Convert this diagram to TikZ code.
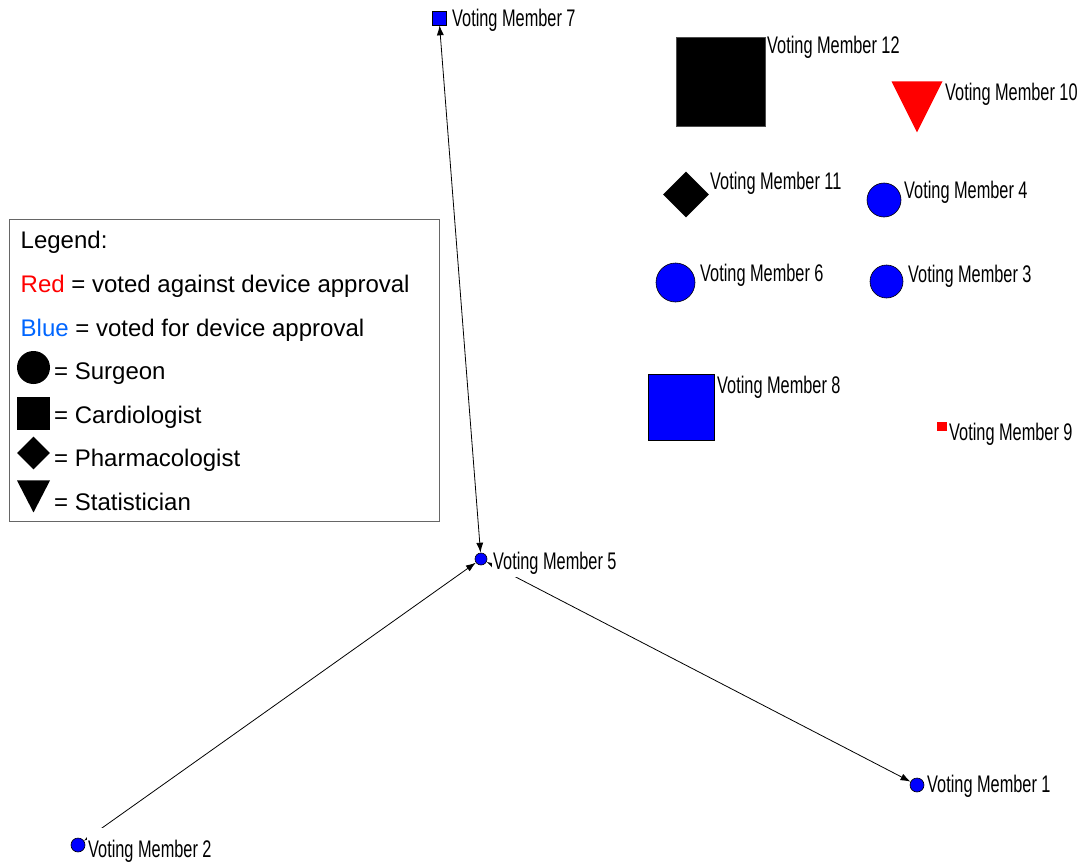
\documentclass[tikz,border=0pt]{standalone}
\usepackage{fontspec}
\setmainfont{Liberation Sans}
\newfontfamily\vmfont[FakeStretch=0.68]{Liberation Sans}
\usetikzlibrary{shapes.geometric,arrows.meta}
\definecolor{legblue}{RGB}{0,102,255}
\begin{document}
\begin{tikzpicture}[x=1pt,y=-1pt,
  vm/.style={font=\vmfont\fontsize{24}{24}\selectfont, anchor=base west, inner xsep=1pt, inner ysep=0pt, text height=29pt, text depth=8pt, fill=white},
  leg/.style={font=\fontsize{24}{24}\selectfont, anchor=base west, inner sep=0pt},
  bcirc/.style={circle, fill=blue, draw=black, line width=0.6pt, inner sep=0pt},
  bsq/.style={rectangle, fill=blue, draw=black, line width=0.6pt, inner sep=0pt},
  ksq/.style={rectangle, fill=black, draw=black!70, line width=0.6pt, inner sep=0pt},
  kdia/.style={diamond, fill=black, inner sep=0pt, aspect=1},
  redtri/.style={isosceles triangle, isosceles triangle stretches, shape border rotate=-90, inner sep=0pt, fill=red},
  edge/.style={line width=0.8pt, {Latex[length=10pt,width=7pt]}-{Latex[length=10pt,width=7pt]}},
]
\path[use as bounding box] (0,0) rectangle (1088,867);

% nodes
\node[bsq, minimum size=14pt] (n7) at (439,18) {};
\node[ksq, minimum size=89pt] (n12) at (721,81.5) {};
\node[redtri, minimum width=51pt, minimum height=51pt, anchor=apex] (n10) at (917,133) {};
\node[kdia, minimum size=46pt] (n11) at (686,194.5) {};
\node[bcirc, minimum size=34pt] (n4) at (884,200) {};
\node[bcirc, minimum size=39pt] (n6) at (675.5,282.5) {};
\node[bcirc, minimum size=33pt] (n3) at (886.5,281.5) {};
\node[bsq, minimum size=66pt] (n8) at (681,407.5) {};
\node[rectangle, fill=red, inner sep=0pt, minimum width=10pt, minimum height=9pt] (n9) at (942,426.5) {};
\node[bcirc, minimum size=12pt] (n5) at (481,559) {};
\node[bcirc, minimum size=14pt] (n2) at (78,845) {};
\node[bcirc, minimum size=14pt] (n1) at (917,785) {};

% edges
\draw[edge] (n7) -- (n5);
\draw[edge] (n2) -- (n5);
\draw[edge] (n5) -- (n1);

% labels
\node[vm] (l7) at (451,27) {Voting Member 7};
\node[vm] (l12) at (766,54) {Voting Member 12};
\node[vm] (l10) at (944,100) {Voting Member 10};
\node[vm] (l11) at (709,189) {Voting Member 11};
\node[vm] (l4) at (903,198) {Voting Member 4};
\node[vm] (l6) at (699,281) {Voting Member 6};
\node[vm] (l3) at (907,282) {Voting Member 3};
\node[vm] (l8) at (716,393) {Voting Member 8};
\node[vm] (l9) at (948,440) {Voting Member 9};
\node[vm] (l5) at (492,569) {Voting Member 5};
\node[vm] (l2) at (87,857) {Voting Member 2};
\node[vm] (l1) at (926,792) {Voting Member 1};

% legend
\node[draw=black!60, line width=0.8pt, fill=white, minimum width=430pt, minimum height=302pt, inner sep=0pt, anchor=north west] (legend) at (9,219) {};
\node[leg] (lg0) at (20.5,248) {Legend:};
\node[leg] (lg1) at (20.5,292) {\textcolor{red}{Red} = voted against device approval};
\node[leg] (lg2) at (20.5,336) {\textcolor{legblue}{Blue} = voted for device approval};
\node[circle, fill=black, inner sep=0pt, minimum size=33pt] (s1) at (33.5,367.5) {};
\node[leg] (lg3) at (54,379) {= Surgeon};
\node[rectangle, fill=black, inner sep=0pt, minimum size=33pt] (s2) at (33.5,413) {};
\node[leg] (lg4) at (54,423) {= Cardiologist};
\node[kdia, minimum size=33pt] (s3) at (33.5,453) {};
\node[leg] (lg5) at (54,466) {= Pharmacologist};
\node[isosceles triangle, isosceles triangle stretches, shape border rotate=-90, inner sep=0pt, fill=black, minimum width=33pt, minimum height=32pt, anchor=apex] (s4) at (33.5,513) {};
\node[leg] (lg6) at (54,510) {= Statistician};
\end{tikzpicture}
\end{document}
